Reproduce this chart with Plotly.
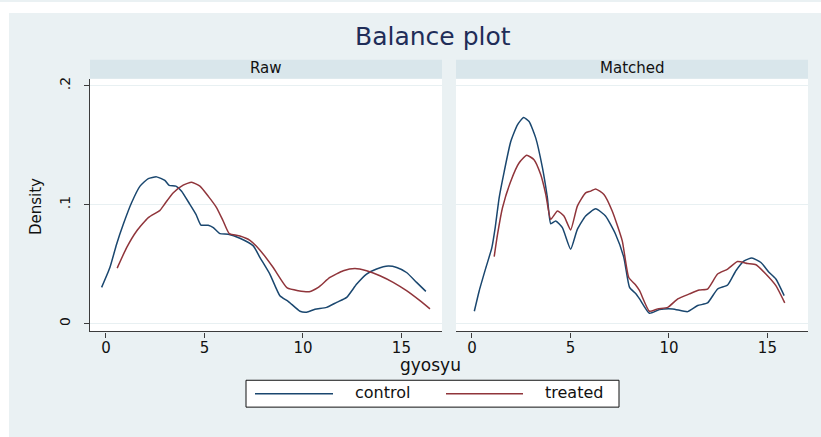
import plotly.graph_objects as go

W, H = 821, 437

# Kernel density estimates of gyosyu, before and after matching
raw_control_x = [-0.22, 0.20, 0.54, 0.88, 1.30, 1.73, 2.15, 2.57, 2.99, 3.21, 3.55, 3.84, 4.26,
                 4.57, 4.82, 5.19, 5.45, 5.79, 6.21, 6.80, 7.48, 7.82, 8.32, 8.83, 9.25, 9.85,
                 10.19, 10.61, 11.20, 11.71, 12.22, 12.73, 13.23, 13.74, 14.33, 14.76, 15.26,
                 15.77, 16.24]
raw_control_y = [0.0304, 0.0471, 0.0667, 0.0834, 0.1015, 0.1155, 0.1219, 0.1233, 0.1203, 0.1161,
                 0.1155, 0.1113, 0.1002, 0.0918, 0.0828, 0.0826, 0.0806, 0.0756, 0.0751, 0.0717,
                 0.0653, 0.0555, 0.0416, 0.0234, 0.0187, 0.0103, 0.0095, 0.0120, 0.0136, 0.0178,
                 0.0220, 0.0332, 0.0416, 0.0458, 0.0483, 0.0471, 0.0429, 0.0346, 0.0270]

raw_treated_x = [0.57, 1.05, 1.56, 2.15, 2.74, 2.99, 3.42, 3.92, 4.35, 4.77, 5.19, 5.62, 5.95,
                 6.26, 6.80, 7.31, 7.82, 8.49, 9.20, 9.76, 10.32, 10.78, 11.37, 12.05, 12.64,
                 13.23, 13.91, 14.58, 15.26, 15.94, 16.45]
raw_treated_y = [0.0466, 0.0638, 0.0778, 0.0890, 0.0951, 0.1007, 0.1099, 0.1163, 0.1188, 0.1155,
                 0.1071, 0.0973, 0.0862, 0.0756, 0.0736, 0.0700, 0.0617, 0.0471, 0.0299, 0.0276,
                 0.0268, 0.0304, 0.0387, 0.0444, 0.0463, 0.0444, 0.0402, 0.0346, 0.0276, 0.0192,
                 0.0123]

matched_control_x = [0.12, 0.37, 0.71, 1.01, 1.18, 1.38, 1.64, 1.97, 2.31, 2.62, 2.90, 3.24, 3.58,
                     3.83, 4.00, 4.25, 4.59, 5.01, 5.35, 5.77, 6.28, 6.78, 7.29, 7.71, 8.00, 8.30,
                     8.51, 9.01, 9.52, 10.19, 10.95, 11.46, 11.96, 12.47, 12.98, 13.40, 13.82,
                     14.21, 14.67, 15.09, 15.43, 15.85]
matched_control_y = [0.0103, 0.0276, 0.0471, 0.0638, 0.0806, 0.1057, 0.1280, 0.1531, 0.1671,
                     0.1732, 0.1699, 0.1559, 0.1308, 0.1057, 0.0839, 0.0862, 0.0806, 0.0625,
                     0.0792, 0.0904, 0.0965, 0.0904, 0.0751, 0.0555, 0.0304, 0.0254, 0.0207,
                     0.0086, 0.0117, 0.0123, 0.0100, 0.0151, 0.0173, 0.0290, 0.0324, 0.0444,
                     0.0527, 0.0550, 0.0513, 0.0429, 0.0374, 0.0234]

matched_treated_x = [1.13, 1.30, 1.55, 1.97, 2.39, 2.78, 3.15, 3.49, 3.75, 4.00, 4.34, 4.67, 5.01,
                     5.35, 5.77, 6.03, 6.28, 6.70, 7.12, 7.63, 7.96, 8.30, 8.51, 9.01, 9.43, 9.94,
                     10.45, 11.04, 11.54, 11.96, 12.47, 12.98, 13.48, 13.99, 14.42, 14.92, 15.43,
                     15.88]
matched_treated_y = [0.0563, 0.0751, 0.0973, 0.1197, 0.1350, 0.1414, 0.1378, 0.1253, 0.1085,
                     0.0876, 0.0946, 0.0904, 0.0787, 0.0987, 0.1099, 0.1113, 0.1132, 0.1085,
                     0.0946, 0.0695, 0.0387, 0.0326, 0.0276, 0.0103, 0.0123, 0.0136, 0.0207,
                     0.0249, 0.0282, 0.0290, 0.0416, 0.0458, 0.0521, 0.0505, 0.0494, 0.0416,
                     0.0318, 0.0173]

panel_titles = ["Raw", "Matched"]
group_names = ["control", "treated"]
x_ticks = [0, 5, 10, 15]
y_ticks = [0, 0.1, 0.2]
y_tick_text = ["0", ".1", ".2"]

CONTROL = "#1a476f"
TREATED = "#90353b"
BG = "#EAF1F3"
STRIP = "#D9E6EB"
GRID = "#E8F0F2"
AXIS = "#3c3c3c"
FONT = "DejaVu Sans"


def fx(p):
    return p / W


def fy(p):
    return 1 - p / H


fig = go.Figure()

series = [
    (raw_control_x, raw_control_y, CONTROL, group_names[0], "x", "y"),
    (raw_treated_x, raw_treated_y, TREATED, group_names[1], "x", "y"),
    (matched_control_x, matched_control_y, CONTROL, group_names[0], "x2", "y2"),
    (matched_treated_x, matched_treated_y, TREATED, group_names[1], "x2", "y2"),
]
for xs, ys, color, name, xa, ya in series:
    fig.add_trace(go.Scatter(
        x=xs, y=ys, mode="lines", name=name, showlegend=False,
        line=dict(color=color, width=1.5, shape="spline", smoothing=0.5),
        xaxis=xa, yaxis=ya, hoverinfo="skip",
    ))

x_range = [-0.81, 17.06]
y_range = [-0.0067, 0.2059]
y_dom = [fy(331), fy(77)]

common_x = dict(
    range=x_range, tickvals=x_ticks, showgrid=False, zeroline=False,
    showline=True, linecolor=AXIS, linewidth=1.3, ticks="outside", ticklen=5,
    tickcolor=AXIS, tickwidth=1.2, ticklabelstandoff=-3,
    tickfont=dict(family=FONT, size=15, color="#111"),
)

fig.update_layout(
    width=W, height=H, autosize=False,
    margin=dict(l=0, r=0, t=0, b=0),
    paper_bgcolor=BG, plot_bgcolor="white",
    xaxis=dict(domain=[fx(90), fx(442)], anchor="y", **common_x),
    xaxis2=dict(domain=[fx(456), fx(808)], anchor="y2", **common_x),
    yaxis=dict(
        domain=y_dom, anchor="x", range=y_range, tickvals=y_ticks, ticktext=y_tick_text,
        tickangle=-90, showgrid=True, gridcolor=GRID, gridwidth=1, zeroline=False,
        showline=True, linecolor=AXIS, linewidth=1.3, ticks="outside", ticklen=5,
        tickcolor=AXIS, tickwidth=1.2, ticklabelstandoff=8,
        tickfont=dict(family=FONT, size=14, color="#111"),
    ),
    yaxis2=dict(
        domain=y_dom, anchor="x2", matches="y", range=y_range, tickvals=y_ticks,
        showticklabels=False, ticks="", showline=False, showgrid=True, gridcolor=GRID,
        gridwidth=1, zeroline=False,
    ),
    showlegend=False,
)

shapes = [
    # white border around the graph region
    dict(type="rect", xref="paper", yref="paper", x0=0, x1=fx(9), y0=0, y1=1,
         fillcolor="white", line=dict(width=0)),
    dict(type="rect", xref="paper", yref="paper", x0=0, x1=1, y0=fy(11), y1=1,
         fillcolor="white", line=dict(width=0)),
    # panel strips
    dict(type="rect", xref="paper", yref="paper", x0=fx(90), x1=fx(442), y0=fy(77), y1=fy(58),
         fillcolor=STRIP, line=dict(width=0)),
    dict(type="rect", xref="paper", yref="paper", x0=fx(456), x1=fx(808), y0=fy(77), y1=fy(58),
         fillcolor=STRIP, line=dict(width=0)),
    # legend box and keys
    dict(type="rect", xref="paper", yref="paper", x0=fx(246), x1=fx(619), y0=fy(407), y1=fy(380),
         fillcolor="white", line=dict(color="#111", width=1)),
    dict(type="line", xref="paper", yref="paper", x0=fx(255), x1=fx(333), y0=fy(393.5),
         y1=fy(393.5), line=dict(color=CONTROL, width=1.5)),
    dict(type="line", xref="paper", yref="paper", x0=fx(446), x1=fx(523), y0=fy(393.5),
         y1=fy(393.5), line=dict(color=TREATED, width=1.5)),
]

annotations = [
    dict(text="Balance plot", x=fx(433), y=fy(35), font=dict(family=FONT, size=25, color="#1F2D58")),
    dict(text=panel_titles[0], x=fx(266), y=fy(66), font=dict(family=FONT, size=15, color="#111")),
    dict(text=panel_titles[1], x=fx(632), y=fy(66), font=dict(family=FONT, size=15, color="#111")),
    dict(text="Density", x=fx(36), y=fy(206), textangle=-90,
         font=dict(family=FONT, size=15, color="#111")),
    dict(text="gyosyu", x=fx(431), y=fy(365), font=dict(family=FONT, size=17, color="#111")),
    dict(text=group_names[0], x=fx(382), y=fy(392), font=dict(family=FONT, size=16, color="#111")),
    dict(text=group_names[1], x=fx(574), y=fy(392), font=dict(family=FONT, size=16, color="#111")),
]
for a in annotations:
    a.update(xref="paper", yref="paper", showarrow=False, xanchor="center", yanchor="middle")

fig.update_layout(shapes=shapes, annotations=annotations)

fig.write_html("out.html")
